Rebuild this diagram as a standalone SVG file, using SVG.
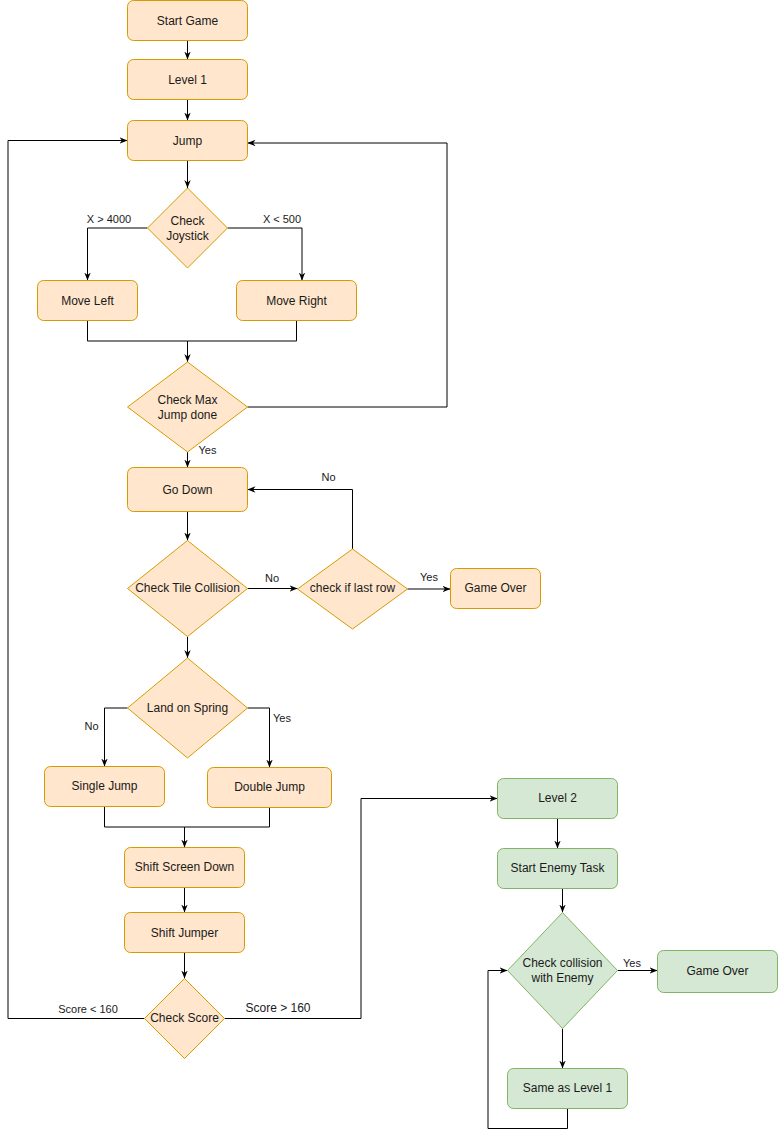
<svg xmlns="http://www.w3.org/2000/svg" width="778" height="1138" viewBox="0 0 778 1138">
<style>
.o{fill:#ffe6cc;stroke:#d79b00;stroke-width:1}
.g{fill:#d5e8d4;stroke:#82b366;stroke-width:1}
.t{font-family:"Liberation Sans",Arial,sans-serif;font-size:12px;fill:#1a1a1a;text-anchor:middle}
.l{font-family:"Liberation Sans",Arial,sans-serif;font-size:11px;fill:#1a1a1a;text-anchor:middle}
.e{fill:none;stroke:#000;stroke-width:1}
.a{marker-end:url(#arr)}
</style>
<defs>
<marker id="arr" viewBox="0 0 10 10" refX="10" refY="5" markerWidth="8" markerHeight="8" markerUnits="userSpaceOnUse" orient="auto">
<path d="M0,1 L10,5 L0,9 L3,5 z" fill="#000"/>
</marker>
</defs>
<rect width="778" height="1138" fill="#fff"/>
<g id="connectors">
<path class="e a" d="M187.5 40.5 V59.5"/>
<path class="e a" d="M187.5 99.5 V120.5"/>
<path class="e a" d="M187.5 160.5 V188"/>
<path class="e a" d="M147.5 228 H87.5 V280.5"/>
<path class="e a" d="M227.5 228 H302 V280.5"/>
<path class="e a" d="M87.5 320.5 V341 H187.5 V362"/>
<path class="e" d="M296.5 320.5 V341 H187.5"/>
<path class="e a" d="M247.5 407 H447 V143 H247.5"/>
<path class="e a" d="M187.5 452 V467.5"/>
<path class="e a" d="M187.5 511.5 V540.5"/>
<path class="e a" d="M247.5 588.5 H297.5"/>
<path class="e a" d="M352.5 549 V489.5 H247.5"/>
<path class="e a" d="M407.5 589 H450.5"/>
<path class="e a" d="M187.5 636.5 V658"/>
<path class="e a" d="M127.5 708 H104.5 V766.5"/>
<path class="e a" d="M247.5 708 H269.5 V767.5"/>
<path class="e a" d="M104.5 806.5 V827 H184.5 V847.5"/>
<path class="e" d="M269.5 807.5 V827 H184.5"/>
<path class="e a" d="M184.5 887.5 V912.5"/>
<path class="e a" d="M184.5 952.5 V978.5"/>
<path class="e a" d="M144.5 1018.5 H8 V140.5 H127.5"/>
<path class="e a" d="M224.5 1018.5 H361 V798.5 H497.5"/>
<path class="e a" d="M557.5 818.5 V848.5"/>
<path class="e a" d="M562.5 888.5 V912.5"/>
<path class="e a" d="M617.5 970.5 H657.5"/>
<path class="e a" d="M562.5 1028.5 V1068.5"/>
<path class="e a" d="M567.5 1108.5 V1128.5 H488 V970.5 H507.5"/>
<text class="l" x="109" y="223">X &gt; 4000</text>
<text class="l" x="282" y="223">X &lt; 500</text>
<text class="l" x="207.5" y="454">Yes</text>
<text class="l" x="328.5" y="481">No</text>
<text class="l" x="272" y="582">No</text>
<text class="l" x="429" y="581">Yes</text>
<text class="l" x="91.5" y="730">No</text>
<text class="l" x="282" y="722">Yes</text>
<text class="l" x="88" y="1013">Score &lt; 160</text>
<text class="t" x="278" y="1012">Score &gt; 160</text>
<text class="l" x="632" y="966.5">Yes</text>
</g>
<g id="start-game"><rect class="o" x="127.5" y="0.5" width="120" height="40" rx="6"/><text class="t" x="187.5" y="24.5">Start Game</text></g>
<g id="level-1"><rect class="o" x="127.5" y="59.5" width="120" height="40" rx="6"/><text class="t" x="187.5" y="83.5">Level 1</text></g>
<g id="jump"><rect class="o" x="127.5" y="120.5" width="120" height="40" rx="6"/><text class="t" x="187.5" y="144.5">Jump</text></g>
<g id="check-joystick"><polygon class="o" points="187.5,188 227.5,228 187.5,268 147.5,228"/><text class="t" x="187.5" y="225">Check</text><text class="t" x="187.5" y="240">Joystick</text></g>
<g id="move-left"><rect class="o" x="37.5" y="280.5" width="100" height="40" rx="6"/><text class="t" x="87.5" y="304.5">Move Left</text></g>
<g id="move-right"><rect class="o" x="236.5" y="280.5" width="120" height="40" rx="6"/><text class="t" x="296.5" y="304.5">Move Right</text></g>
<g id="check-max-jump"><polygon class="o" points="187.5,362 247.5,407 187.5,452 127.5,407"/><text class="t" x="187.5" y="403.5">Check Max</text><text class="t" x="187.5" y="418.5">Jump done</text></g>
<g id="go-down"><rect class="o" x="127.5" y="467.5" width="120" height="44" rx="6"/><text class="t" x="187.5" y="493.5">Go Down</text></g>
<g id="check-tile-collision"><polygon class="o" points="187.5,540.5 247.5,588.5 187.5,636.5 127.5,588.5"/><text class="t" x="187.5" y="592">Check Tile Collision</text></g>
<g id="check-last-row"><polygon class="o" points="352.5,549 407.5,589 352.5,629 297.5,589"/><text class="t" x="352.5" y="592">check if last row</text></g>
<g id="game-over-1"><rect class="o" x="450.5" y="568.5" width="90" height="40" rx="6"/><text class="t" x="495.5" y="592">Game Over</text></g>
<g id="land-on-spring"><polygon class="o" points="187.5,658 247.5,708 187.5,758 127.5,708"/><text class="t" x="187.5" y="712">Land on Spring</text></g>
<g id="single-jump"><rect class="o" x="44.5" y="766.5" width="120" height="40" rx="6"/><text class="t" x="104.5" y="790">Single Jump</text></g>
<g id="double-jump"><rect class="o" x="207.5" y="767.5" width="124" height="40" rx="6"/><text class="t" x="269.5" y="791">Double Jump</text></g>
<g id="shift-screen-down"><rect class="o" x="124.5" y="847.5" width="120" height="40" rx="6"/><text class="t" x="184.5" y="871">Shift Screen Down</text></g>
<g id="shift-jumper"><rect class="o" x="124.5" y="912.5" width="120" height="40" rx="6"/><text class="t" x="184.5" y="937">Shift Jumper</text></g>
<g id="check-score"><polygon class="o" points="184.5,978.5 224.5,1018.5 184.5,1058.5 144.5,1018.5"/><text class="t" x="184.5" y="1022">Check Score</text></g>
<g id="level-2"><rect class="g" x="497.5" y="778.5" width="120" height="40" rx="6"/><text class="t" x="557.5" y="802">Level 2</text></g>
<g id="start-enemy-task"><rect class="g" x="497.5" y="848.5" width="120" height="40" rx="6"/><text class="t" x="557.5" y="872">Start Enemy Task</text></g>
<g id="check-collision-enemy"><polygon class="g" points="562.5,912.5 617.5,970.5 562.5,1028.5 507.5,970.5"/><text class="t" x="562.5" y="967">Check collision</text><text class="t" x="562.5" y="982">with Enemy</text></g>
<g id="game-over-2"><rect class="g" x="657.5" y="950.5" width="120" height="42" rx="6"/><text class="t" x="717.5" y="975">Game Over</text></g>
<g id="same-as-level-1"><rect class="g" x="507.5" y="1068.5" width="120" height="40" rx="6"/><text class="t" x="567.5" y="1092">Same as Level 1</text></g>
</svg>
